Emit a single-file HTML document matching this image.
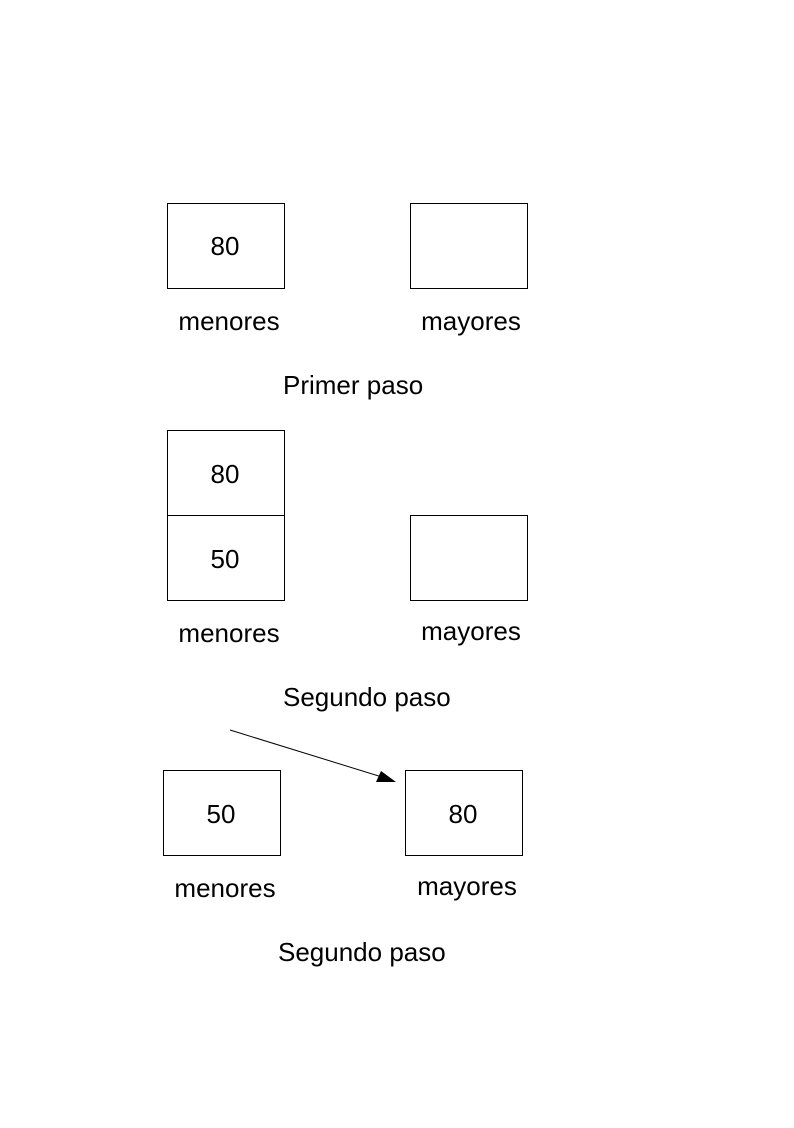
<!DOCTYPE html>
<html><head><style>body{margin:0;background:#fff}svg text{font-family:"Liberation Sans",Arial,sans-serif;font-size:26px}</style></head><body>
<svg width="794" height="1123" xmlns="http://www.w3.org/2000/svg" fill="#000">
<g fill="none" stroke="#000" stroke-width="1">
<rect x="167.5" y="203.5" width="117" height="85"/>
<rect x="410.5" y="203.5" width="117" height="85"/>
<rect x="167.5" y="430.5" width="117" height="85"/>
<rect x="167.5" y="515.5" width="117" height="85"/>
<rect x="410.5" y="515.5" width="117" height="85"/>
<rect x="163.5" y="770.5" width="117" height="85"/>
<rect x="405.5" y="770.5" width="117" height="85"/>
<line x1="230" y1="730" x2="382" y2="777"/>
</g>
<polygon points="396,782 376,782 381,771" fill="#000"/>
<text x="225" y="255" text-anchor="middle">80</text>
<text x="229" y="330" text-anchor="middle">menores</text>
<text x="471" y="330" text-anchor="middle">mayores</text>
<text x="283" y="394">Primer paso</text>
<text x="225" y="483" text-anchor="middle">80</text>
<text x="225" y="568" text-anchor="middle">50</text>
<text x="229" y="642" text-anchor="middle">menores</text>
<text x="471" y="640" text-anchor="middle">mayores</text>
<text x="283" y="706">Segundo paso</text>
<text x="221" y="823" text-anchor="middle">50</text>
<text x="463" y="823" text-anchor="middle">80</text>
<text x="225" y="897" text-anchor="middle">menores</text>
<text x="467" y="895" text-anchor="middle">mayores</text>
<text x="278" y="961">Segundo paso</text>
</svg>
</body></html>
